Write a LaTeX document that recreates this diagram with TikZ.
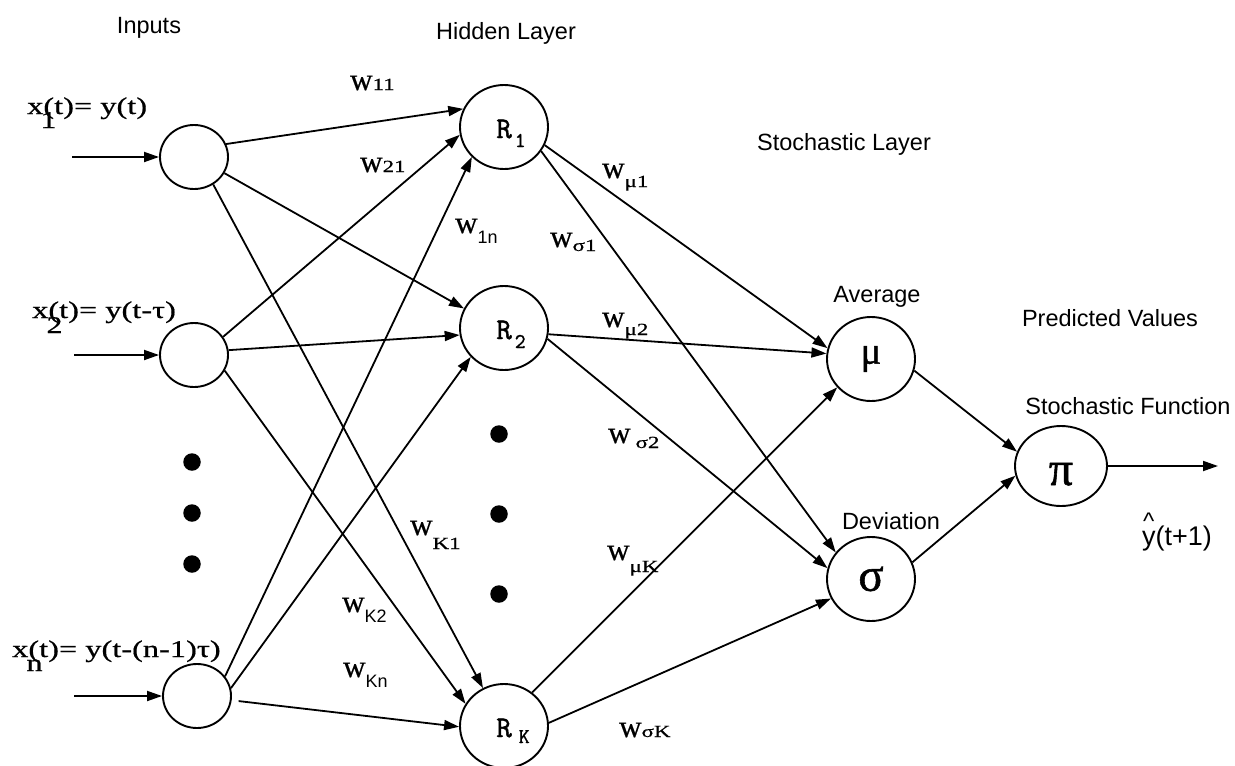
\documentclass[tikz,border=0pt]{standalone}
\usepackage{fontspec}
\usetikzlibrary{arrows.meta,shapes.geometric}
\newfontfamily\labsans{Liberation Sans}
\newfontfamily\labserif[FakeBold=0.6]{Liberation Serif}
\newfontfamily\labwide[FakeStretch=1.35,FakeBold=0.6]{Liberation Serif}
\newfontfamily\grk[FakeBold=1.2]{Liberation Serif}
\newfontfamily\monor[FakeBold=1.4]{Latin Modern Mono}
\newcommand\fs[1]{\fontsize{#1}{#1}\selectfont}
% weight label: w followed by a (possibly lowered) index
\newcommand\wser[2]{w\raisebox{-#1pt}{\labwide\fs{17}#2}}
\newcommand\wsan[2]{w\raisebox{-#1pt}{\labsans\fs{18}#2}}
\begin{document}
\begin{tikzpicture}[x=1pt,y=-1pt,
  inp/.style={draw, ellipse, line width=1.9pt, inner sep=0pt, minimum width=68pt, minimum height=64pt},
  unit/.style={draw, ellipse, line width=1.9pt, inner sep=0pt, minimum width=88pt, minimum height=84pt},
  conn/.style={line width=1.8pt, -{Triangle[length=15pt,width=10pt]}},
  title/.style={font=\labsans\fs{23.5}, anchor=base, inner sep=0pt},
  xlab/.style={font=\labwide\fs{24}, anchor=base west, inner sep=0pt},
  wlab/.style={font=\labserif\fs{31}, anchor=base west, inner sep=0pt},
  dot/.style={fill, circle, inner sep=0pt, minimum size=17.5pt},
  rlab/.style={text height=22pt, text depth=0pt}]
\fill[white] (0,0) rectangle (1235,766);
\useasboundingbox (0,0) rectangle (1235,766);

% layer titles
\node[title] (tin)  at (149,33)  {Inputs};
\node[title] (thid) at (506,39)  {Hidden Layer};
\node[title] (tsto) at (844,150) {Stochastic Layer};
\node[title] (tavg) at (877,302) {Average};
\node[title] (tpre) at (1110,326) {Predicted Values};
\node[title] (tfun) at (1128,414) {Stochastic Function};
\node[title] (tdev) at (891,529) {Deviation};
\node[font=\labsans\fs{27}, anchor=base west, inner sep=0pt] (yhat) at (1142,545)
  {\rlap{\kern1pt\raisebox{16pt}{\fs{24}\textasciicircum}}y(t+1)};

% input neurons
\node[inp] (x1) at (194,157) {};
\node[inp] (x2) at (194,355) {};
\node[inp] (xn) at (197,696) {};
\node[xlab] (lx1) at (27,114) {x\rlap{\kern-3pt\raisebox{-14pt}{1}}(t)= y(t)};
\node[xlab] (lx2) at (32,318) {x\rlap{\kern-2pt\raisebox{-15pt}{2}}(t)= y(t-τ)};
\node[xlab] (lxn) at (12,657) {x\rlap{\kern-2pt\raisebox{-14pt}{n}}(t)= y(t-(n-1)τ)};
\coordinate (in1) at (72,157);
\coordinate (in2) at (74,355);
\coordinate (inn) at (74,696);

\node[dot] (d1) at (192,462) {};
\node[dot] (d2) at (192,513) {};
\node[dot] (d3) at (192,564) {};

% hidden layer
\node[unit, rlab] (R1) at (504,127) {\monor\fs{30}\hspace*{14pt}R\hspace{3pt}\raisebox{-9pt}{\fs{21}1}};
\node[unit, rlab] (R2) at (504,328) {\monor\fs{30}\hspace*{14pt}R\hspace{3pt}\raisebox{-9pt}{\fs{21}2}};
\node[unit, rlab] (RK) at (504,726) {\monor\fs{30}\hspace*{18pt}R\hspace{7pt}\raisebox{-6pt}{\fs{21}K}};
\node[dot] (h1) at (499,434) {};
\node[dot] (h2) at (499,514) {};
\node[dot] (h3) at (499,594) {};

% stochastic layer and output
\node[unit] (mu) at (871,359) {\grk\fs{38}μ};
\node[unit] (sg) at (871,579) {\grk\fs{47}σ};
\node[unit, minimum width=92pt, minimum height=80pt, text height=38pt, text depth=0pt] (pi) at (1061,466) {\grk\fs{48}π};
\coordinate (out) at (1218,466);

% connections
\draw[conn] (in1) -- (x1.west);
\draw[conn] (in2) -- (x2.west);
\draw[conn] (inn) -- (xn.west);

\draw[conn] (x1.22)  -- (R1.156);
\draw[conn] (x1.-28) -- (R2.154);
\draw[conn] (x1.-55) -- (RK.119);
\draw[conn] (x2.32)  -- (R1.-170);
\draw[conn] (x2.8)   -- (R2.-171);
\draw[conn] (x2.-27) -- (RK.150);
\draw[conn] (xn.35)  -- (R1.-137);
\draw[conn] (xn.13)  -- (R2.-139);
\draw[conn, shorten <=7pt] (xn.-7) -- (RK.-179);

\draw[conn] (R1.-24) -- (mu.166);
\draw[conn] (R1.-33) -- (sg.143);
\draw[conn] (R2.-8)  -- (mu.173);
\draw[conn] (R2.-14) -- (sg.166);
\draw[conn] (RK.50)  -- (mu.-140);
\draw[conn] (RK.4)   -- (sg.-154);

\draw[conn] (mu.-15) -- (pi.162);
\draw[conn] (sg.22)  -- (pi.-168);
\draw[conn] (pi.east) -- (out);

% weight labels
\node[wlab] (w11) at (350,90)  {w{\labwide\fs{17}11}};
\node[wlab] (w21) at (360,172) {w{\labwide\fs{17}21}};
\node[wlab] (w1n) at (455,233) {\wsan{10}{1n}};
\node[wlab] (ws1) at (550,247) {\wser{4}{σ1}};
\node[wlab] (wm1) at (602,178) {\wser{9}{μ1}};
\node[wlab] (wm2) at (602,327) {\wser{8}{μ2}};
\node[wlab] (ws2) at (608,443) {w\hspace{5pt}\raisebox{-5pt}{\labwide\fs{17}σ2}};
\node[wlab] (wK1) at (410,535) {\wser{14}{K1}};
\node[wlab] (wmK) at (607,560) {\wser{12}{μK}};
\node[wlab] (wsK) at (619,737) {w{\labwide\fs{17}σK}};
\node[wlab] (wK2) at (342,612) {\wsan{10}{K2}};
\node[wlab] (wKn) at (343,677) {\wsan{10}{Kn}};
\end{tikzpicture}
\end{document}
